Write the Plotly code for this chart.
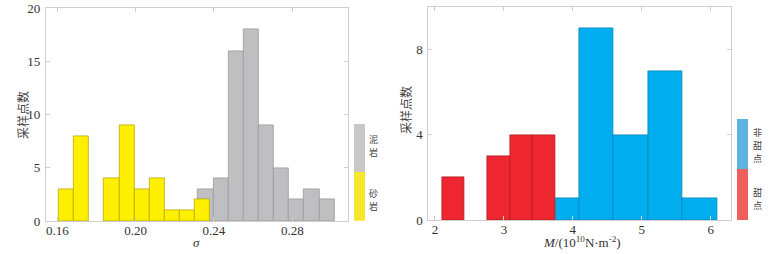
import numpy as np
import plotly.graph_objects as go

# ---- data ----
sand_counts = [3, 8, 0, 4, 9, 3, 4, 1, 1, 2]
sand_start = 0.1607
mud_counts = [3, 4, 16, 18, 9, 5, 2, 3, 2]
mud_start = 0.2319
sigma_bin = 0.00774

sweet_counts = [2, 0, 3, 4, 4]
sweet_start = 2.102
sweet_bin = 0.329
nonsweet_counts = [1, 9, 4, 7, 1]
nonsweet_start = 3.594
nonsweet_bin = 0.5

sigma_ticks = [0.16, 0.20, 0.24, 0.28]
sigma_ticklabels = ["0.16", "0.20", "0.24", "0.28"]
m_ticks = [2, 3, 4, 5, 6]
left_yticks = [0, 5, 10, 15, 20]
right_yticks = [0, 4, 8]

ylab = "采样点数"
FONT = "Liberation Serif, Times New Roman, Noto Sans CJK SC, serif"
CJK = "Noto Sans CJK SC, Liberation Serif"


def centers(start, w, n):
    return start + w * (np.arange(n) + 0.5)


def lw(counts, w=0.8):
    return [w if c > 0 else 0 for c in counts]


fig = go.Figure()

fig.add_trace(go.Bar(x=centers(mud_start, sigma_bin, len(mud_counts)), y=mud_counts,
                     width=sigma_bin, marker=dict(color="#bfbfc1", line=dict(color="#9a9a9c", width=lw(mud_counts))),
                     xaxis="x", yaxis="y", showlegend=False))
fig.add_trace(go.Bar(x=centers(sand_start, sigma_bin, len(sand_counts)), y=sand_counts,
                     width=sigma_bin, marker=dict(color="#fff000", line=dict(color="#b8a800", width=lw(sand_counts))),
                     xaxis="x", yaxis="y", showlegend=False))
fig.add_trace(go.Bar(x=centers(nonsweet_start, nonsweet_bin, len(nonsweet_counts)), y=nonsweet_counts,
                     width=nonsweet_bin, marker=dict(color="#00aeef", line=dict(color="#0a86b8", width=lw(nonsweet_counts))),
                     xaxis="x2", yaxis="y2", showlegend=False))
fig.add_trace(go.Bar(x=centers(sweet_start, sweet_bin, len(sweet_counts)), y=sweet_counts,
                     width=sweet_bin, marker=dict(color="#ed2630", line=dict(color="#b01c22", width=lw(sweet_counts))),
                     xaxis="x2", yaxis="y2", showlegend=False))

axcommon = dict(showline=True, linecolor="#cfcfcf", linewidth=1, mirror="ticks", automargin=False,
                ticks="inside", ticklen=4, tickcolor="#cfcfcf", showgrid=False, zeroline=False,
                tickfont=dict(family=FONT, size=13, color="#333333"))

fig.update_layout(
    template="none",
    width=783, height=254, margin=dict(l=0, r=0, t=0, b=0, pad=0),
    paper_bgcolor="white", plot_bgcolor="white", barmode="overlay", bargap=0,
    xaxis=dict(domain=[0.0584, 0.4448], range=[0.1541, 0.3086], tickvals=sigma_ticks,
               ticktext=sigma_ticklabels, anchor="y", ticklabelstandoff=-3, **axcommon),
    yaxis=dict(domain=[0.1299, 0.9673], range=[0, 20], tickvals=left_yticks, anchor="x",
               ticklabelstandoff=2, **axcommon),
    xaxis2=dict(domain=[0.547, 0.9336], range=[1.903, 6.295], tickvals=m_ticks, anchor="y2",
                ticklabelstandoff=-3, **axcommon),
    yaxis2=dict(domain=[0.1339, 0.9713], range=[0, 10], tickvals=right_yticks, anchor="x2",
                ticklabelstandoff=2, **axcommon),
)

shapes = [
    dict(type="rect", xref="paper", yref="paper", x0=354/783, x1=365/783, y0=1-172/254, y1=1-124/254,
         fillcolor="#c8c8c8", line=dict(width=0)),
    dict(type="rect", xref="paper", yref="paper", x0=354/783, x1=365/783, y0=1-220.7/254, y1=1-172/254,
         fillcolor="#f7e62c", line=dict(width=0)),
    dict(type="rect", xref="paper", yref="paper", x0=737/783, x1=748/783, y0=1-169/254, y1=1-119/254,
         fillcolor="#5bb5e0", line=dict(width=0)),
    dict(type="rect", xref="paper", yref="paper", x0=737/783, x1=748/783, y0=1-220/254, y1=1-169/254,
         fillcolor="#ef5f5b", line=dict(width=0)),
]
fig.update_layout(shapes=shapes)

# stacked legend labels, one character per annotation
labels = [
    ("泥岩", 373, 139),
    ("砂岩", 373, 193),
    ("非甜点", 757, 132),
    ("甜点", 757, 192),
]
STEP = 13.2
for text, px, py in labels:
    for i, ch in enumerate(text):
        fig.add_annotation(text=ch, xref="paper", yref="paper", x=px/783, y=1-(py + STEP*i)/254,
                           showarrow=False, xanchor="center", yanchor="middle", borderpad=0,
                           font=dict(family=CJK, size=9, color="#444444"))

fig.add_annotation(text="<i>σ</i>", xref="paper", yref="paper", x=197/783, y=1-242/254, showarrow=False,
                   font=dict(family=FONT, size=13, color="#333333"), xanchor="center", yanchor="middle")
fig.add_annotation(text="<i>M</i>/(10<sup>10</sup>N·m<sup>-2</sup>)", xref="paper", yref="paper",
                   x=582/783, y=1-242/254, showarrow=False,
                   font=dict(family=FONT, size=13, color="#333333"), xanchor="center", yanchor="middle")
fig.add_annotation(text=ylab, xref="paper", yref="paper", x=22/783, y=1-115/254, showarrow=False, textangle=-90,
                   font=dict(family=CJK, size=12, color="#444444"), xanchor="center", yanchor="middle")
fig.add_annotation(text=ylab, xref="paper", yref="paper", x=405/783, y=1-110/254, showarrow=False, textangle=-90,
                   font=dict(family=CJK, size=12, color="#444444"), xanchor="center", yanchor="middle")

fig.write_html("out.html", config={"displayModeBar": False},
               post_script="document.body.style.margin='0';document.body.style.overflow='hidden';")
